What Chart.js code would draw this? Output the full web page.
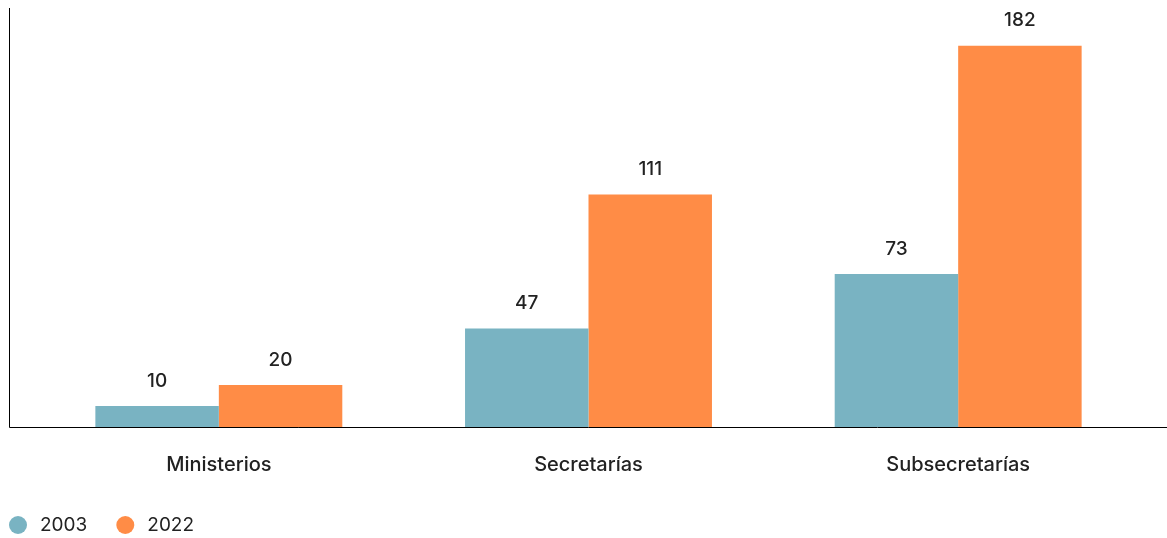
<!DOCTYPE html>
<html>
<head>
<meta charset="utf-8">
<script src="https://cdn.jsdelivr.net/npm/chart.js@4"></script>
<style>
  html, body { margin: 0; padding: 0; background: #ffffff; }
  #wrap { width: 1167px; height: 538px; position: relative; }
</style>
</head>
<body>
<div id="wrap"><canvas id="c" width="1167" height="538"></canvas></div>
<script>
const categories = ['Ministerios', 'Secretarías', 'Subsecretarías'];
const seriesNames = ['2003', '2022'];
const values2003 = [10, 47, 73];
const values2022 = [20, 111, 182];
const seriesColors = ['#79B3C2', '#FF8C46'];
const yMin = 0;
const yMax = 200;

const FONT = 'Inter, "Noto Sans", sans-serif';

const axisLinesPlugin = {
  id: 'axisLines',
  afterDraw(chart) {
    const { ctx, chartArea } = chart;
    const x0 = chartArea.left - 25;
    ctx.save();
    ctx.strokeStyle = '#000000';
    ctx.lineWidth = 1;
    ctx.beginPath();
    ctx.moveTo(Math.round(x0) + 0.5, chartArea.top);
    ctx.lineTo(Math.round(x0) + 0.5, Math.round(chartArea.bottom) + 0.5);
    ctx.lineTo(chart.width, Math.round(chartArea.bottom) + 0.5);
    ctx.stroke();
    ctx.restore();
  }
};

const valueLabelsPlugin = {
  id: 'valueLabels',
  afterDatasetsDraw(chart) {
    const { ctx } = chart;
    ctx.save();
    ctx.font = '500 19px ' + FONT;
    ctx.fillStyle = '#222222';
    ctx.textAlign = 'center';
    ctx.textBaseline = 'middle';
    chart.data.datasets.forEach((ds, di) => {
      const meta = chart.getDatasetMeta(di);
      meta.data.forEach((bar, i) => {
        ctx.fillText(String(ds.data[i]), bar.x, bar.y - 25);
      });
    });
    ctx.restore();
  }
};

const customLegendPlugin = {
  id: 'customLegend',
  afterDraw(chart) {
    const { ctx, chartArea } = chart;
    let x = chartArea.left - 25;
    const y = chart.height - 13;
    ctx.save();
    ctx.font = '400 19px ' + FONT;
    ctx.textBaseline = 'middle';
    ctx.textAlign = 'left';
    chart.data.datasets.forEach((ds) => {
      ctx.fillStyle = ds.backgroundColor;
      ctx.beginPath();
      ctx.arc(x + 9, y, 9, 0, Math.PI * 2);
      ctx.fill();
      ctx.fillStyle = '#222222';
      ctx.fillText(ds.label, x + 31, y);
      const w = ctx.measureText(ds.label).width;
      x += 31 + w + 29;
    });
    ctx.restore();
  }
};

new Chart(document.getElementById('c'), {
  type: 'bar',
  data: {
    labels: categories,
    datasets: [
      { label: seriesNames[0], data: values2003, backgroundColor: seriesColors[0], borderWidth: 0 },
      { label: seriesNames[1], data: values2022, backgroundColor: seriesColors[1], borderWidth: 0 }
    ]
  },
  options: {
    responsive: false,
    animation: false,
    devicePixelRatio: 1,
    layout: { padding: { left: 34, right: 24, top: 8, bottom: 0 } },
    datasets: { bar: { categoryPercentage: 0.668, barPercentage: 1.0 } },
    plugins: {
      legend: { display: false },
      tooltip: { enabled: false }
    },
    scales: {
      x: {
        grid: { display: false, drawTicks: false },
        border: { display: false },
        ticks: { color: '#222222', font: { family: FONT, size: 20, weight: 500 }, padding: 26 },
        afterFit(scale) { scale.height = 111; }
      },
      y: {
        display: false,
        min: yMin,
        max: yMax
      }
    }
  },
  plugins: [axisLinesPlugin, valueLabelsPlugin, customLegendPlugin]
});
</script>
</body>
</html>
